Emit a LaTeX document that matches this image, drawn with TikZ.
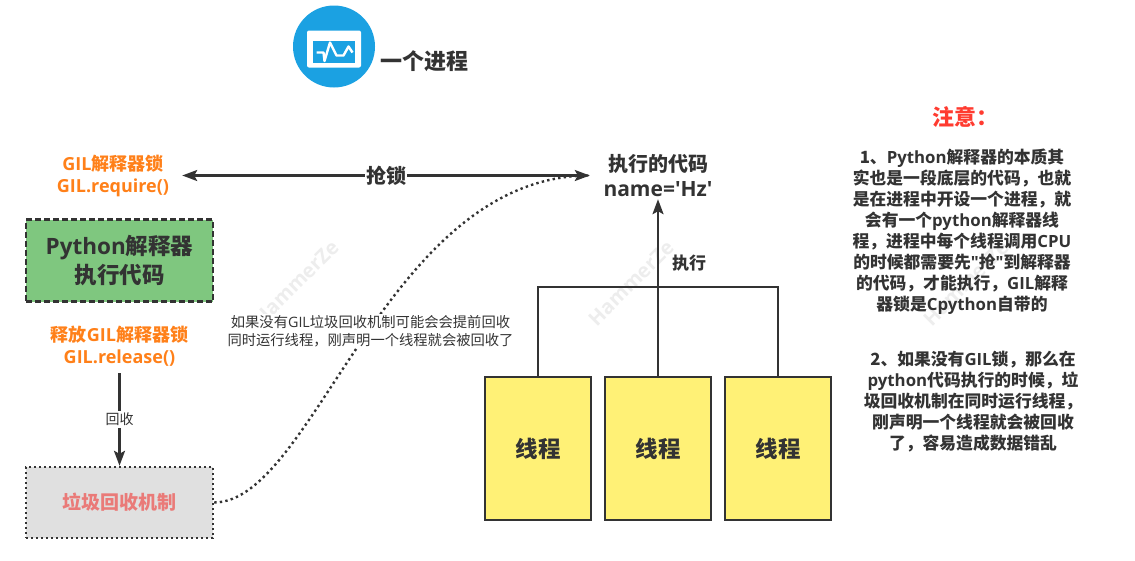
\documentclass[tikz,border=0pt]{standalone}
\usepackage{fontspec}
\setmainfont{Noto Sans CJK SC}
\newfontfamily\lat{Open Sans}
\usetikzlibrary{arrows.meta}
\definecolor{ink}{HTML}{333333}
\definecolor{orangetxt}{HTML}{FF8019}
\definecolor{greenfill}{HTML}{7FC77F}
\definecolor{yellowfill}{HTML}{FFF176}
\definecolor{greyfill}{HTML}{E0E0E0}
\definecolor{pinktxt}{HTML}{EA7A78}
\definecolor{redtxt}{HTML}{FF3B30}
\definecolor{iconblue}{HTML}{1BA1E2}
\newcommand{\fs}[2]{\fontsize{#1}{#2}\selectfont}
\tikzset{
  x=1pt,y=-1pt,
  txt/.style={inner sep=0pt,align=center,text=ink},
  conn/.style={draw=ink,line width=2.4pt},
  head/.style={-{Stealth[length=15pt,width=11pt,inset=3pt]}},
  threadbox/.style={draw=ink,line width=2.4pt,fill=yellowfill,minimum width=106pt,minimum height=143pt,inner sep=0pt,text=ink,font=\fs{22.5}{27}\bfseries},
  mainbox/.style={line width=2.4pt,draw=ink,minimum width=187pt,inner sep=0pt,align=center},
  orangelabel/.style={txt,text=orangetxt,font=\fs{18}{22}\bfseries},
  wmark/.style={inner sep=0pt,text=black!7,rotate=45,font=\lat\fs{20}{24}\bfseries},
  note/.style={txt,font=\fs{16.8}{21}\bfseries}
}
\begin{document}
\begin{tikzpicture}
\useasboundingbox (0,0) rectangle (1135,560);
% watermarks
\node[wmark] (w1) at (296,283) {HammerZe};
\node[wmark] (w2) at (631,283) {HammerZe};
\node[wmark] (w3) at (966,283) {HammerZe};
% icon
\node[circle,fill=iconblue,minimum size=82pt,inner sep=0pt] (icon) at (334,46.5) {};
\node[fill=white,rounded corners=2pt,minimum width=54pt,minimum height=37pt,inner sep=0pt] (screen) at (334,49) {};
\node[fill=iconblue,minimum width=42pt,minimum height=22pt,inner sep=0pt] (display) at (334,51.5) {};
\draw[white,line width=2.4pt,line join=round] (316.5,52.5) -- (323.5,52.5) -- (324.5,61) -- (330,42.5) -- (336.5,55.5) -- (343.5,55.5) -- (348.5,46.5) -- (352.5,52.5);
\node[txt,font=\fs{22}{26}\bfseries] (title) at (424,61) {一个进程};
% boxes
\node[mainbox,fill=greenfill,dash pattern=on 6pt off 3pt,minimum height=82pt,text=ink,font=\fs{22.5}{28.5}\bfseries] (py) at (119.5,260.5) {{\lat Python}解释器\\执行代码};
\node[mainbox,fill=greyfill,dash pattern=on 2.4pt off 2.6pt,minimum height=71pt,text=pinktxt,font=\fs{19}{22}\bfseries] (gc) at (119.5,502.5) {垃圾回收机制};
\node[threadbox] (t1) at (538,448.5) {线程};
\node[threadbox] (t2) at (658,448.5) {线程};
\node[threadbox] (t3) at (778,448.5) {线程};
% labels
\node[orangelabel,minimum width=138pt,minimum height=46pt] (req) at (113,175.5) {{\lat GIL}解释器锁\\{\lat GIL.require()}};
\node[orangelabel,minimum height=54pt] (rel) at (119.5,346) {释放{\lat GIL}解释器锁\\{\lat GIL.release()}};
\node[txt,minimum width=136pt,minimum height=47pt,font=\fs{20}{25}\bfseries] (code) at (658,175.5) {执行的代码\\{\lat\fs{21}{25}name='Hz'}};
% connectors
\coordinate (bus) at (658,287);
\draw[conn,line join=miter] (t1.north) |- (bus) -| (t3.north);
\draw[conn,head] (t2.north) -- (code.south);
\draw[conn,{Stealth[length=15pt,width=11pt,inset=3pt]}-{Stealth[length=15pt,width=11pt,inset=3pt]}] (req.east) -- node[txt,fill=white,inner xsep=1pt,font=\fs{20}{24}\bfseries] (grab) {抢锁} (code.west);
\draw[draw=ink,line width=2.4pt,dash pattern=on 2.4pt off 3.2pt] (gc.east) .. controls (314,502) and (386,175.5) .. (code.west);
\draw[conn,head] (rel.south) -- node[txt,fill=white,inner ysep=2pt,font=\fs{14}{16}] (recl) {回收} (gc.north);
\node[txt,fill=white,inner sep=1pt,font=\fs{14.3}{18}] (why) at (370.5,331) {如果没有{\lat GIL}垃圾回收机制可能会会提前回收\\同时运行线程，刚声明一个线程就会被回收了};
\node[txt,font=\fs{17}{20}\bfseries] (exec) at (689,263) {执行};
% notes
\node[txt,text=redtxt,font=\fs{22}{26}\bfseries] (warn) at (965,117) {注意：};
\node[note] (n1) at (962,231.5) {1、{\lat Python}解释器的本质其\\实也是一段底层的代码，也就\\是在进程中开设一个进程，就\\会有一个{\lat python}解释器线\\程，进程中每个线程调用{\lat CPU}\\的时候都需要先{\lat "}抢{\lat "}到解释器\\的代码，才能执行，{\lat GIL}解释\\器锁是{\lat Cpython}自带的};
\node[note] (n2) at (973,401.5) {2、如果没有{\lat GIL}锁，那么在\\{\lat python}代码执行的时候，垃\\圾回收机制在同时运行线程，\\刚声明一个线程就会被回收\\了，容易造成数据错乱};
\end{tikzpicture}
\end{document}
